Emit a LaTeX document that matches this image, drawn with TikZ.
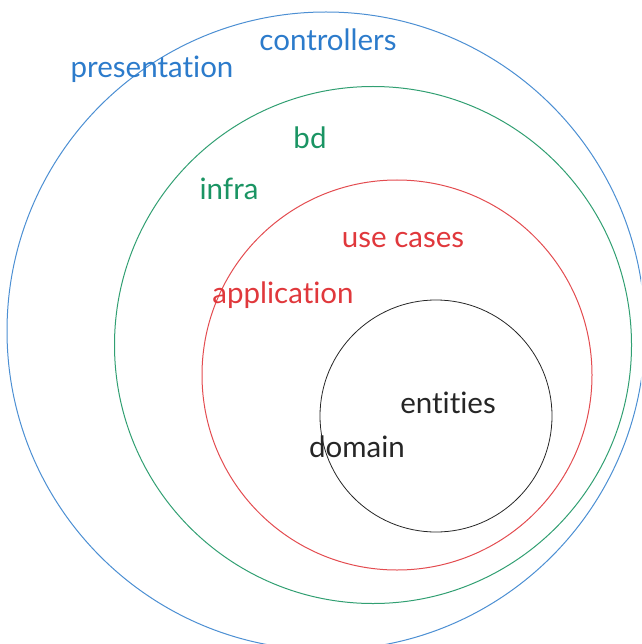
\documentclass[tikz,border=0pt]{standalone}
\usepackage{fontspec}
\setmainfont{Lato}[Ligatures={NoCommon,NoRequired,NoContextual}]
\definecolor{cblue}{HTML}{2C7BCB}
\definecolor{cgreen}{HTML}{1A9463}
\definecolor{cred}{HTML}{E0383C}
\definecolor{cdark}{HTML}{262626}
\tikzset{
  ring/.style={line width=1pt},
  lbl/.style={anchor=base, inner sep=0pt, font=\fontsize{29.5}{34}\selectfont},
}
\begin{document}
\begin{tikzpicture}[x=1pt,y=-1pt]
\useasboundingbox (0,0) rectangle (641,644);
\begin{scope}
\clip (0,0) rectangle (641,644);
\draw[ring, cblue!85] (326,331) circle[radius=319];
\draw[ring, cgreen!90] (373,345) circle[radius=258.5];
\draw[ring, cred!90] (397,375) circle[radius=195];
\draw[ring, cdark, line width=0.8pt] (436,416) circle[radius=116];
\end{scope}
\node[lbl, text=cblue] (controllers) at (328,51) {controllers};
\node[lbl, text=cblue] (presentation) at (152,78) {presentation};
\node[lbl, text=cgreen] (bd) at (310,149) {bd};
\node[lbl, text=cgreen] (infra) at (229,200) {infra};
\node[lbl, text=cred] (usecases) at (403,247) {use cases};
\node[lbl, text=cred] (application) at (283,303) {application};
\node[lbl, text=cdark] (entities) at (448,413) {entities};
\node[lbl, text=cdark] (domain) at (357,457) {domain};
\end{tikzpicture}
\end{document}
